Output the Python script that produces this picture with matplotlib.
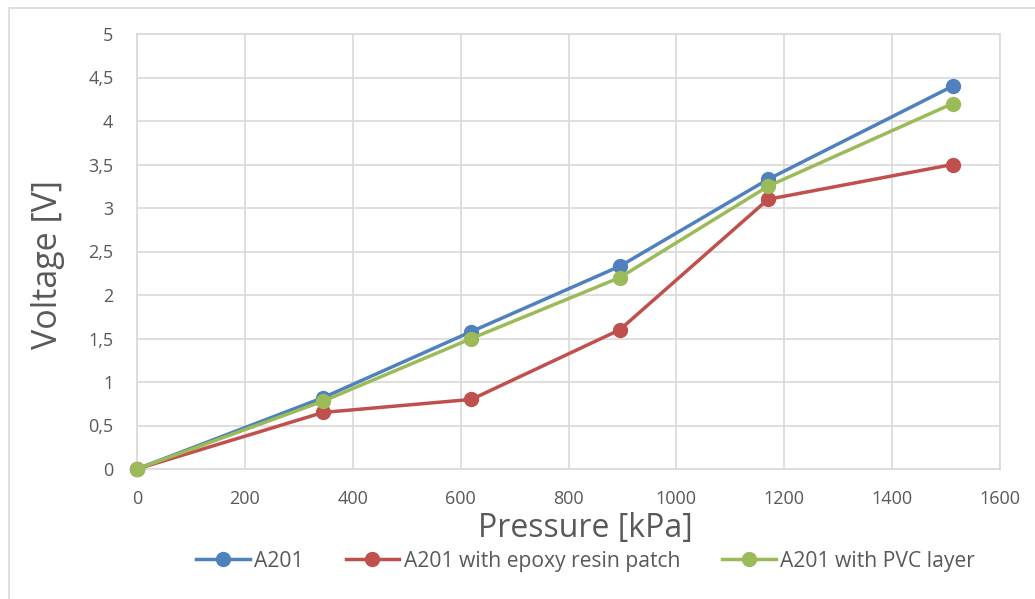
import matplotlib
matplotlib.use("Agg")
import matplotlib.pyplot as plt
from matplotlib.ticker import FuncFormatter, MultipleLocator
from matplotlib.patches import Rectangle

pressure = [0, 345, 620, 895, 1170, 1512]
a201 = [0, 0.82, 1.58, 2.33, 3.33, 4.40]
a201_epoxy = [0, 0.65, 0.80, 1.60, 3.10, 3.50]
a201_pvc = [0, 0.78, 1.50, 2.20, 3.25, 4.20]
series_names = ["A201", "A201 with epoxy resin patch", "A201 with PVC layer"]
colors = ["#4f81bd", "#c0504d", "#9bbb59"]

plt.rcParams['font.family'] = ['Open Sans', 'DejaVu Sans']

fig = plt.figure(figsize=(10.35, 5.99), dpi=100)
fig.patches.append(Rectangle((9/1035, -0.1), 1.2, 1 - 8/599 + 0.1, transform=fig.transFigure,
                             fill=False, edgecolor="#d9d9d9", linewidth=1.2))
ax = fig.add_axes([137/1035, 1 - 469/599, (1000-137)/1035, (469-34)/599])

for ys, name, c in zip([a201, a201_epoxy, a201_pvc], series_names, colors):
    ax.plot(pressure, ys, color=c, linewidth=2.5, marker='o', markersize=10,
            label=name, clip_on=False, zorder=3)

ax.set_xlim(0, 1600)
ax.set_ylim(0, 5)
ax.xaxis.set_major_locator(MultipleLocator(200))
ax.yaxis.set_major_locator(MultipleLocator(0.5))
ax.yaxis.set_major_formatter(FuncFormatter(lambda v, p: ("%g" % v).replace(".", ",")))
ax.grid(True, color="#d9d9d9", linewidth=1.2)
ax.set_axisbelow(True)
for s in ax.spines.values():
    s.set_color("#d9d9d9")
    s.set_linewidth(1.2)
ax.tick_params(length=0, colors="#595959", labelsize=13)
ax.tick_params(axis='y', pad=17)
ax.tick_params(axis='x', pad=15)

ax.set_xlabel("Pressure [kPa]", fontsize=23, color="#595959")
ax.xaxis.set_label_coords(0.52, -0.098)
ax.set_ylabel("Voltage [V]", fontsize=24.5, color="#595959")
ax.yaxis.set_label_coords(-0.083, 0.469)

ax.legend(loc="center", bbox_to_anchor=(0.5197, -0.2115), ncol=3, frameon=False,
          fontsize=15.2, labelcolor="#595959", handlelength=2.55, columnspacing=2.0,
          handletextpad=0.2, borderpad=0)

fig.savefig("out.png", dpi=100)
